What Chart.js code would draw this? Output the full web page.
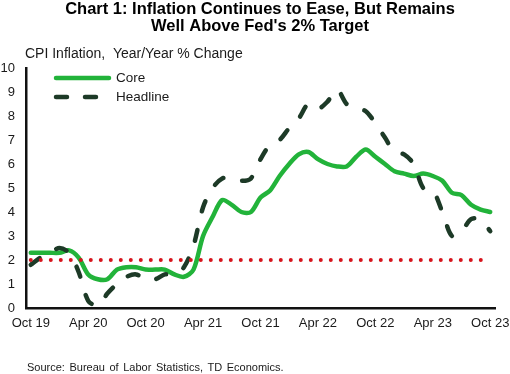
<!DOCTYPE html>
<html>
<head>
<meta charset="utf-8">
<script src="https://cdn.jsdelivr.net/npm/chart.js@4.4.0/dist/chart.umd.min.js"></script>
<style>
    html, body { margin: 0; padding: 0; background: #fff; }
    #wrap { width: 510px; height: 374px; position: relative; }
</style>
</head>
<body>
<div id="wrap"><canvas id="cpiChart" width="510" height="374"></canvas></div>
<script>
// ==========================================
// 1. 資料 (Data)
// ==========================================
const months = [
    'Oct 19', 'Nov 19', 'Dec 19',
    'Jan 20', 'Feb 20', 'Mar 20', 'Apr 20', 'May 20', 'Jun 20', 'Jul 20', 'Aug 20', 'Sep 20', 'Oct 20', 'Nov 20', 'Dec 20',
    'Jan 21', 'Feb 21', 'Mar 21', 'Apr 21', 'May 21', 'Jun 21', 'Jul 21', 'Aug 21', 'Sep 21', 'Oct 21', 'Nov 21', 'Dec 21',
    'Jan 22', 'Feb 22', 'Mar 22', 'Apr 22', 'May 22', 'Jun 22', 'Jul 22', 'Aug 22', 'Sep 22', 'Oct 22', 'Nov 22', 'Dec 22',
    'Jan 23', 'Feb 23', 'Mar 23', 'Apr 23', 'May 23', 'Jun 23', 'Jul 23', 'Aug 23', 'Sep 23', 'Oct 23'
];

const coreCPI = [
    2.3, 2.3, 2.3,
    2.3, 2.4, 2.1, 1.4, 1.2, 1.2, 1.6, 1.7, 1.7, 1.6, 1.6, 1.6,
    1.4, 1.3, 1.6, 3.0, 3.8, 4.5, 4.3, 4.0, 4.0, 4.6, 4.9, 5.5,
    6.0, 6.4, 6.5, 6.2, 6.0, 5.9, 5.9, 6.3, 6.6, 6.3, 6.0, 5.7,
    5.6, 5.5, 5.6, 5.5, 5.3, 4.8, 4.7, 4.3, 4.1, 4.0
];

const headlineCPI = [
    1.8, 2.1, 2.3,
    2.5, 2.3, 1.5, 0.3, 0.1, 0.6, 1.0, 1.3, 1.4, 1.2, 1.2, 1.4,
    1.4, 1.7, 2.6, 4.2, 5.0, 5.4, 5.4, 5.3, 5.4, 6.2, 6.8, 7.0,
    7.5, 7.9, 8.5, 8.3, 8.6, 9.1, 8.5, 8.3, 8.2, 7.7, 7.1, 6.5,
    6.4, 6.0, 5.0, 4.9, 4.0, 3.0, 3.2, 3.7, 3.7, 3.2
];

const fedTarget = 2;
const yTicks = [0, 1, 2, 3, 4, 5, 6, 7, 8, 9, 10];

const titleLines = ['Chart 1: Inflation Continues to Ease, But Remains', "Well Above Fed's 2% Target"];

const FONT = "'Liberation Sans', Arial, sans-serif";
const TEXT = '#1a1a1a';

// ==========================================
// 2. 自訂繪圖 (title / caption / legend / source)
// ==========================================
const extrasPlugin = {
    id: 'extras',
    afterDraw(chart) {
        const ctx = chart.ctx;
        ctx.save();

        // 標題
        ctx.fillStyle = '#000';
        ctx.textAlign = 'center';
        ctx.textBaseline = 'alphabetic';
        ctx.font = 'bold 16.5px ' + FONT;
        titleLines.forEach((line, i) => ctx.fillText(line, 260, 13.5 + i * 17.5));

        ctx.fillStyle = TEXT;
        ctx.textAlign = 'left';
        ctx.textBaseline = 'middle';

        // y 軸說明
        ctx.font = '14px ' + FONT;
        ctx.fillText('CPI Inflation,  Year/Year % Change', 25, 54);

        // 圖例
        const items = chart.data.datasets.filter(ds => ds.showInLegend);
        items.sort((a, b) => a.legendOrder - b.legendOrder);
        items.forEach((ds, i) => {
            const y = 78 + i * 19;
            ctx.save();
            ctx.strokeStyle = ds.borderColor;
            ctx.lineWidth = ds.borderWidth;
            ctx.lineCap = ds.borderCapStyle || 'butt';
            ctx.setLineDash(ds.legendDash || []);
            ctx.beginPath();
            ctx.moveTo(56, y);
            ctx.lineTo(109, y);
            ctx.stroke();
            ctx.restore();
            ctx.font = '13.5px ' + FONT;
            ctx.fillText(ds.label, 116, y);
        });

        // 資料來源
        ctx.font = '11px ' + FONT;
        if ('wordSpacing' in ctx) ctx.wordSpacing = '1.5px';
        ctx.fillText('Source: Bureau of Labor Statistics, TD Economics.', 27, 368);
        ctx.restore();
    }
};

// ==========================================
// 3. 圖表 (Chart)
// ==========================================
const ctx = document.getElementById('cpiChart');

new Chart(ctx, {
    type: 'line',
    data: {
        labels: months,
        datasets: [
            {
                label: 'Fed Target',
                data: months.map(() => fedTarget),
                borderColor: '#d7141c',
                borderWidth: 4,
                borderDash: [0, 10],
                borderCapStyle: 'round',
                pointRadius: 0,
                tension: 0,
                order: 0
            },
            {
                label: 'Headline',
                data: headlineCPI,
                borderColor: '#1d3a27',
                borderWidth: 4.5,
                borderDash: [11, 19],
                borderCapStyle: 'round',
                pointRadius: 0,
                tension: 0.3,
                order: 1,
                showInLegend: true,
                legendOrder: 2,
                legendDash: [11, 18]
            },
            {
                label: 'Core',
                data: coreCPI,
                borderColor: '#22b33a',
                borderWidth: 4.5,
                borderCapStyle: 'round',
                borderJoinStyle: 'round',
                pointRadius: 0,
                tension: 0.3,
                order: 2,
                showInLegend: true,
                legendOrder: 1
            }
        ]
    },
    options: {
        responsive: false,
        animation: false,
        layout: { padding: { left: 0, right: 0, top: 68, bottom: 0 } },
        scales: {
            x: {
                type: 'category',
                offset: true,
                grid: { display: false, drawTicks: false },
                border: { display: true, color: '#111', width: 2.5 },
                ticks: {
                    autoSkip: false,
                    maxRotation: 0,
                    padding: 8,
                    color: TEXT,
                    font: { family: FONT, size: 13 },
                    callback: (value, index) => index % 6 === 0 ? months[index] : null
                },
                afterFit: (scale) => {
                    scale.height = 66;
                    scale.paddingLeft = 0;
                    scale.paddingRight = 15;
                }
            },
            y: {
                min: 0,
                max: 10,
                grid: { display: false, drawTicks: false },
                border: { display: true, color: '#111', width: 2.5 },
                afterBuildTicks: (scale) => {
                    scale.ticks = yTicks.map(v => ({ value: v }));
                },
                ticks: {
                    padding: 11,
                    color: TEXT,
                    font: { family: FONT, size: 13 }
                },
                afterFit: (scale) => {
                    scale.width = 26;
                    scale.paddingTop = 0;
                    scale.paddingBottom = 0;
                }
            }
        },
        plugins: {
            legend: { display: false },
            tooltip: { enabled: false },
            title: { display: false }
        }
    },
    plugins: [extrasPlugin]
});
</script>
</body>
</html>
